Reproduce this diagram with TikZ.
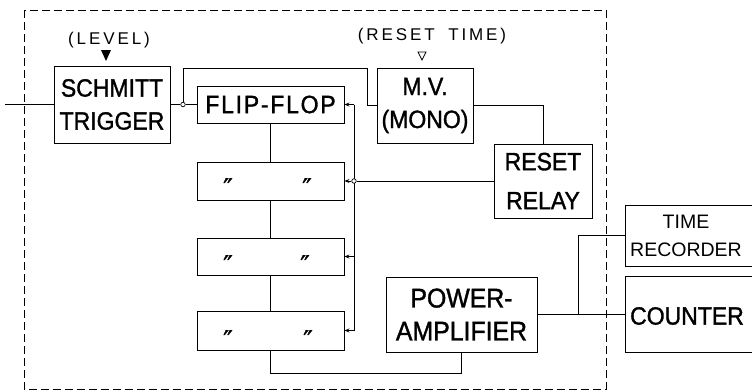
\documentclass[tikz,border=0pt]{standalone}
\usepackage{fontspec}
\setmainfont{Liberation Sans}[FakeStretch=0.92, FakeBold=1.3]
\newfontfamily\spacedfont[LetterSpace=17]{Liberation Sans}
\newfontfamily\ffspaced[LetterSpace=7, FakeStretch=0.92, FakeBold=1.3]{Liberation Sans}
\newfontfamily\thinfont{Liberation Sans}
\newfontfamily\dittofont[FakeBold=0.8]{DejaVu Sans}
\usetikzlibrary{arrows.meta}
\begin{document}
\begin{tikzpicture}[x=1pt,y=-1pt,
  box/.style={draw, line width=0.9pt, inner sep=0pt, align=center, font=\fontsize{25}{33}\selectfont},
  wire/.style={line width=0.8pt},
  tip/.style={-{Stealth[length=5pt,width=4pt]}},
  note/.style={inner sep=0pt, font=\spacedfont\fontsize{17}{17}\selectfont},
  ext/.style={inner sep=0pt, align=center, font=\thinfont\fontsize{19.5}{28}\selectfont},
  ditto/.style={inner sep=0pt, anchor=north, font=\dittofont\fontsize{26}{26}\selectfont},
  junc/.style={circle, draw, line width=0.7pt, fill=white, inner sep=0pt, minimum size=4.5pt}]
\useasboundingbox (0,0) rectangle (752,391);
\clip (0,0) rectangle (752,391);

% dashed enclosure
\draw[dash pattern=on 8pt off 4pt, line width=0.8pt] (24,10) rectangle (606,389);

% blocks
\node[box, minimum width=116pt, minimum height=77pt] (st) at (112,104.5) {SCHMITT\\TRIGGER};
\node[box, minimum width=147pt, minimum height=37pt, font=\ffspaced\fontsize{25}{33}\selectfont] (ff1) at (270.5,104.5) {FLIP-FLOP};
\node[box, minimum width=147pt, minimum height=38pt] (ff2) at (270.5,181) {};
\node[box, minimum width=147pt, minimum height=37pt] (ff3) at (270.5,256.5) {};
\node[box, minimum width=147pt, minimum height=39pt] (ff4) at (270.5,330.5) {};
\node[box, minimum width=96pt, minimum height=75pt] (mv) at (425,105.5) {M.V.\\(MONO)};
\node[box, minimum width=98pt, minimum height=74pt] (rr) at (543,181) {RESET\\[6pt]RELAY};
\node[box, minimum width=151pt, minimum height=75pt, font=\fontsize{27}{33}\selectfont] (pa) at (461.5,314.5) {POWER-\\AMPLIFIER};
\node[box, minimum width=145pt, minimum height=61pt] (tr) at (697.5,235.5) {};
\node[box, minimum width=145pt, minimum height=76pt] (co) at (697.5,314.5) {};
\node[ext] (trtext) at (686,236) {TIME\\RECORDER};
\node[inner sep=0pt, font=\fontsize{25}{25}\selectfont] (cotext) at (687,316) {COUNTER};

% ditto marks
\node[ditto] (d2a) at (228,178) {″};
\node[ditto] (d2b) at (307,178) {″};
\node[ditto] (d3a) at (228,255) {″};
\node[ditto] (d3b) at (305,255) {″};
\node[ditto] (d4a) at (228,330) {″};
\node[ditto] (d4b) at (308,330) {″};

% setting notes
\node[note] (lvl) at (109,40) {(LEVEL)};
\node[note] (rst) at (432,36) {(RESET\hspace{6pt} TIME)};
\fill (101,50) -- (111,50) -- (106,61) -- cycle;
\draw[line width=0.7pt] (418,52) -- (426,52) -- (422,60) -- cycle;

% wiring
\coordinate (in) at (5,104.5);
\node[junc] (j1) at (183,104.5) {};
\draw[wire] (in) -- (st.west);
\draw[wire] (st.east) -- (j1.west);
\draw[wire] (j1.east) -- (ff1.west);
\draw[wire] (j1.north) -- (183,68) -- (367,68) -- (367,105.5) -- (mv.west);
\draw[wire] (mv.east) -| (rr.north);

\coordinate (b1) at (354,104.5);
\coordinate (b3) at (354,256.5);
\coordinate (b4) at (354,330.5);
\draw[wire] (b1) -- (b4);
\node[junc] (j2) at (354,181) {};
\draw[wire] (rr.west) -- (j2.east);
\draw[wire,tip] (b1) -- (ff1.east);
\draw[wire,tip] (j2.west) -- (ff2.east);
\draw[wire,tip] (b3) -- (ff3.east);
\draw[wire,tip] (b4) -- (ff4.east);

\draw[wire] (ff1.south) -- (ff2.north);
\draw[wire] (ff2.south) -- (ff3.north);
\draw[wire] (ff3.south) -- (ff4.north);
\draw[wire] (ff4.south) -- ++(0,23) -| (pa.south);

\coordinate (br) at (578,314.5);
\draw[wire] (pa.east) -- (co.west);
\draw[wire] (br) |- (tr.west);
\end{tikzpicture}
\end{document}
